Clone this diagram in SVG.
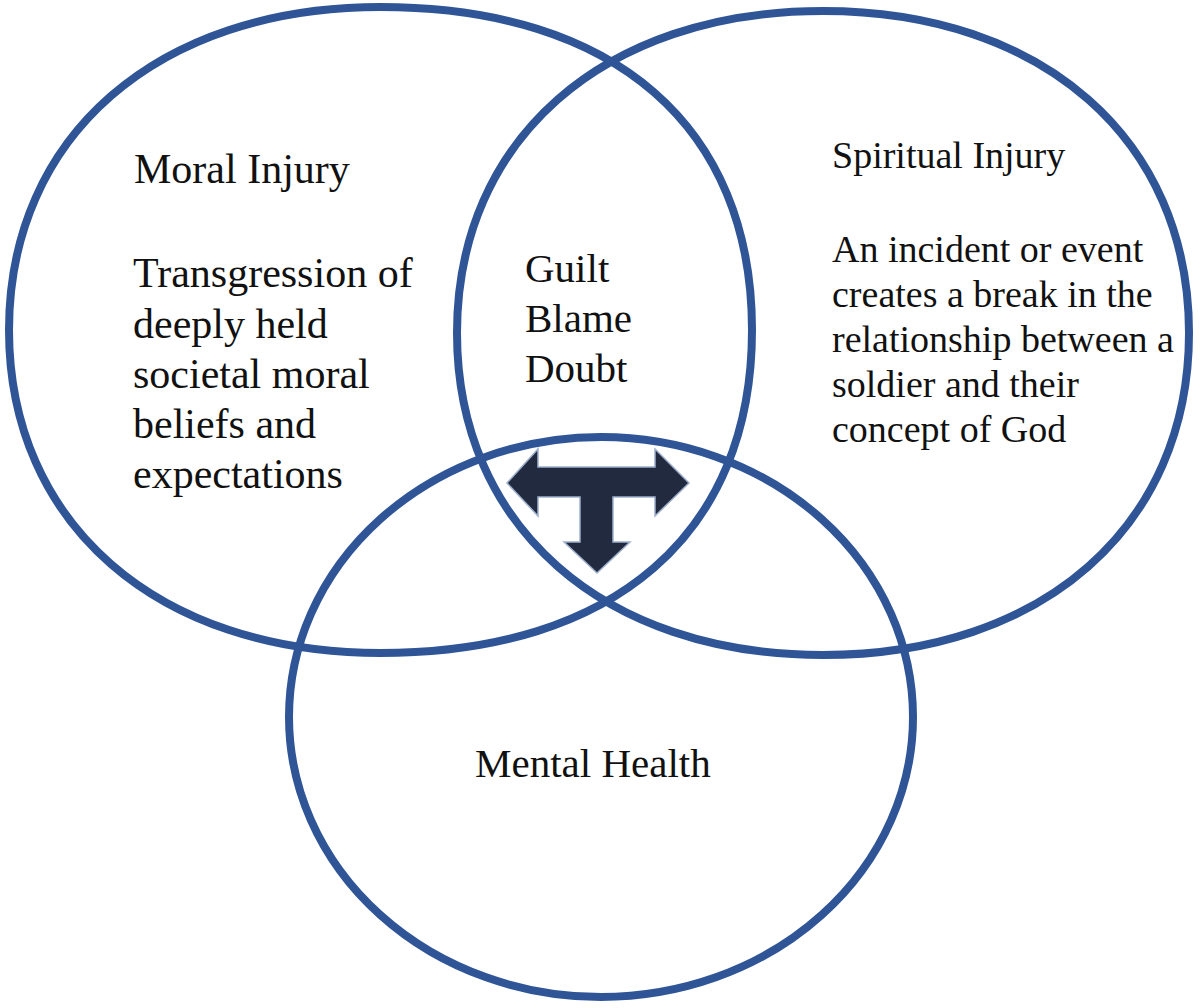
<svg xmlns="http://www.w3.org/2000/svg" width="1200" height="1008" viewBox="0 0 1200 1008">
  <style>
    .ring { fill: none; stroke: #2F5597; stroke-width: 8; }
    .t { font-family: "Liberation Serif", "Times New Roman", serif; fill: #111111; }
    .arrow { fill: #222A3F; stroke: #9FB0CC; stroke-width: 1.5; stroke-linejoin: miter; }
  </style>
  <rect x="0" y="0" width="1200" height="1008" fill="#FFFFFF"/>
  <g id="moral-injury">
    <path class="ring" d="M 380.5,7 C 614.5,7 752,126.5 752,330 C 752,533.5 614.5,653 380.5,653 C 157.6,653 9,523.8 9,330 C 9,136.2 157.6,7 380.5,7 Z"/>
    <text class="t" x="134" y="183" font-size="42">Moral Injury</text>
    <text class="t" font-size="42">
      <tspan x="133" y="287">Transgression of</tspan>
      <tspan x="133" y="338">deeply held</tspan>
      <tspan x="133" y="388">societal moral</tspan>
      <tspan x="133" y="438">beliefs and</tspan>
      <tspan x="133" y="488">expectations</tspan>
    </text>
  </g>
  <g id="spiritual-injury">
    <path class="ring" d="M 823,11 C 1042.6,11 1189,139.8 1189,333 C 1189,526.2 1042.6,655 823,655 C 603.4,655 457,526.2 457,333 C 457,139.8 603.4,11 823,11 Z"/>
    <text class="t" x="832" y="168" font-size="38">Spiritual Injury</text>
    <text class="t" font-size="38">
      <tspan x="832" y="262">An incident or event</tspan>
      <tspan x="832" y="307">creates a break in the</tspan>
      <tspan x="832" y="352">relationship between a</tspan>
      <tspan x="832" y="397">soldier and their</tspan>
      <tspan x="832" y="442">concept of God</tspan>
    </text>
  </g>
  <g id="mental-health">
    <ellipse class="ring" cx="601" cy="717" rx="312" ry="280"/>
    <text class="t" x="475" y="777" font-size="41">Mental Health</text>
  </g>
  <g id="overlap">
    <text class="t" font-size="41">
      <tspan x="525" y="282">Guilt</tspan>
      <tspan x="525" y="332">Blame</tspan>
      <tspan x="525" y="382">Doubt</tspan>
    </text>
  </g>
  <g id="connectors">
    <polygon class="arrow" points="507,483 538,449 538,467 655,467 655,449 689,483 655,516 655,497 613,497 613,542 630,542 597,573 564,542 580,542 580,497 538,497 538,516"/>
  </g>
</svg>
